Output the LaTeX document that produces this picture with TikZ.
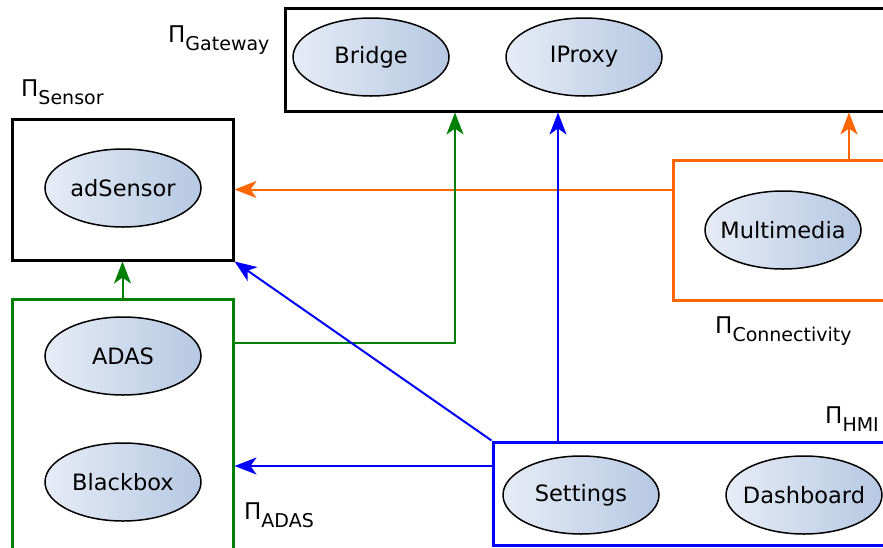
\documentclass[tikz,border=0pt]{standalone}
\usepackage{fontspec}
\setmainfont{DejaVu Sans}
\usetikzlibrary{shapes.geometric,arrows.meta,calc}

\definecolor{conOrange}{RGB}{255,102,0}
\definecolor{adasGreen}{RGB}{0,128,0}
\definecolor{hmiBlue}{RGB}{0,0,255}
\definecolor{compLeft}{RGB}{230,236,246}
\definecolor{compRight}{RGB}{182,200,226}

% partition name: capital Pi with a lowered subscript
\newcommand{\partlabel}[1]{Π\raisebox{-8pt}{\fontsize{19}{19}\selectfont #1}}

\begin{document}
\begin{tikzpicture}[x=1pt,y=-1pt,
  comp/.style={ellipse, draw=black, line width=1.5pt, left color=compLeft,
    right color=compRight, minimum width=156pt, minimum height=78pt,
    inner xsep=-24pt, inner ysep=0pt, font=\fontsize{22.5}{27}\selectfont},
  part/.style={rectangle, draw, line width=3pt, inner sep=0pt, fill=white},
  link/.style={line width=2pt, -{Stealth[length=22pt,width=17pt,inset=6pt]}},
  plabel/.style={anchor=base west, inner sep=0pt, font=\fontsize{23}{27}\selectfont}
]
\useasboundingbox (0,0) rectangle (883,547);
\clip (0,0) rectangle (883,547);

% partitions
\node[part, draw=black, minimum width=221pt, minimum height=141pt] (sens) at (122.5,189.5) {};
\node[part, draw=black, minimum width=715pt, minimum height=103pt] (gw) at (642.5,59.5) {};
\node[part, draw=conOrange, minimum width=352pt, minimum height=140pt] (conn) at (849,230) {};
\node[part, draw=adasGreen, minimum width=221pt, minimum height=351pt] (adas) at (122.5,474.5) {};
\node[part, draw=hmiBlue, minimum width=507pt, minimum height=103pt] (hmi) at (746.5,493.5) {};

% partition names
\node[plabel] (lgw) at (168,42) {\partlabel{Gateway}};
\node[plabel] (lsens) at (21,96) {\partlabel{Sensor}};
\node[plabel] (ladas) at (244,519) {\partlabel{ADAS}};
\node[plabel] (lconn) at (715,333) {\partlabel{Connectivity}};
\node[plabel] (lhmi) at (825,423) {\partlabel{HMI}};

% bend and attachment points of the links
\coordinate (gbend) at (455,343);
\coordinate (bline) at (493,466);
\coordinate (bup) at (558,442);

% links
\draw[link, color=conOrange] (conn.west |- sens.east) -- (sens.east);
\draw[link, color=conOrange] (conn.north) -- (conn.north |- gw.south);
\draw[link, color=adasGreen] (adas.north) -- (sens.south);
\draw[link, color=adasGreen] (adas.east |- gbend) -- (gbend) -- (gbend |- gw.south);
\draw[link, color=hmiBlue] (hmi.north west) -- (sens.south east);
\draw[link, color=hmiBlue] (hmi.west |- bline) -- (adas.east |- bline);
\draw[link, color=hmiBlue] (bup) -- (bup |- gw.south);

% components
\node[comp] (adSensor) at (123,188) {adSensor};
\node[comp] (bridge) at (371,57) {Bridge};
\node[comp] (iproxy) at (584,57) {IProxy};
\node[comp] (multimedia) at (783,230) {Multimedia};
\node[comp] (adasC) at (123,356) {ADAS};
\node[comp] (blackbox) at (123,482) {Blackbox};
\node[comp] (settings) at (581,495) {Settings};
\node[comp] (dashboard) at (804,495) {Dashboard};
\end{tikzpicture}
\end{document}
